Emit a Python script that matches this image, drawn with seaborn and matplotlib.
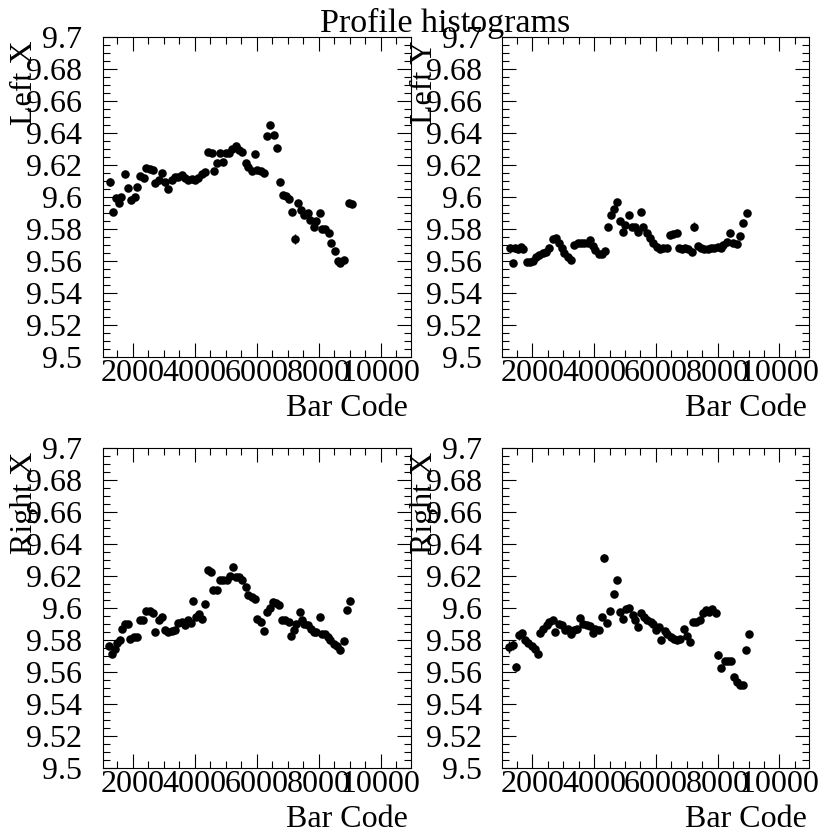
import numpy as np
import pandas as pd
import matplotlib
matplotlib.use("Agg")
import matplotlib.pyplot as plt
from matplotlib.ticker import MultipleLocator, FuncFormatter
import seaborn as sns

# ---------------- data ----------------
title = "Profile histograms"
x_label = "Bar Code"
panel_names = ["Left X", "Left Y", "Right X", "Right X"]

left_x_code = [1255, 1363, 1449, 1546, 1633, 1741, 1849, 1957, 2065, 2151, 2227, 2356, 2443, 2551,
               2659, 2734, 2853, 2950, 3037, 3145, 3253, 3361, 3469, 3577, 3685, 3793, 3901, 4009,
               4117, 4225, 4333, 4441, 4549, 4635, 4732, 4819, 4905, 5013, 5121, 5218, 5326, 5434,
               5542, 5650, 5737, 5845, 5953, 6028, 6136, 6244, 6331, 6439, 6547, 6655, 6741, 6849,
               6946, 7054, 7141, 7227, 7335, 7443, 7540, 7648, 7735, 7843, 7929, 8037, 8124, 8221,
               8329, 8415, 8523, 8631, 8707, 8815, 8977, 9085]
left_x_val = [9.6098, 9.591, 9.5994, 9.5963, 9.6004, 9.6146, 9.6056, 9.5983, 9.6004, 9.6067, 9.6133,
              9.6119, 9.6181, 9.6175, 9.6171, 9.6092, 9.6108, 9.6154, 9.6098, 9.605, 9.6108, 9.6129,
              9.6129, 9.614, 9.6119, 9.6108, 9.6113, 9.6108, 9.6119, 9.6146, 9.616, 9.6285, 9.6279,
              9.6167, 9.6213, 9.6279, 9.6223, 9.6275, 9.6279, 9.63, 9.6321, 9.6296, 9.6285, 9.6213,
              9.6188, 9.6167, 9.6269, 9.6171, 9.6167, 9.6154, 9.6383, 9.6452, 9.639, 9.6306, 9.6098,
              9.6015, 9.6008, 9.5988, 9.591, 9.5738, 9.5967, 9.5921, 9.589, 9.59, 9.5858, 9.5817,
              9.5854, 9.5904, 9.58, 9.58, 9.5775, 9.5717, 9.5667, 9.5602, 9.5588, 9.5608, 9.5963,
              9.5958]
left_x_err = [0.0025, 0.0015, 0.002, 0.002, 0.0015, 0.001, 0.001, 0.0012, 0.001, 0.001, 0.001,
              0.001, 0.001, 0.001, 0.001, 0.001, 0.001, 0.001, 0.001, 0.001, 0.001, 0.001,
              0.001, 0.001, 0.001, 0.001, 0.001, 0.001, 0.001, 0.001, 0.001, 0.001, 0.001,
              0.001, 0.001, 0.001, 0.001, 0.001, 0.001, 0.001, 0.001, 0.001, 0.001, 0.001,
              0.001, 0.001, 0.001, 0.001, 0.001, 0.001, 0.0012, 0.0012, 0.0012, 0.0012, 0.001,
              0.001, 0.001, 0.001, 0.001, 0.003, 0.001, 0.001, 0.001, 0.001, 0.001, 0.001,
              0.001, 0.001, 0.001, 0.001, 0.001, 0.001, 0.001, 0.001, 0.001, 0.001, 0.0012,
              0.0012]

left_y_code = [1272, 1358, 1444, 1531, 1617, 1703, 1811, 1919, 2005, 2113, 2221, 2329, 2437, 2545,
               2652, 2760, 2847, 2944, 3030, 3138, 3246, 3354, 3462, 3570, 3677, 3785, 3861, 3947,
               4034, 4142, 4250, 4358, 4455, 4541, 4638, 4746, 4832, 4919, 5005, 5113, 5210, 5318,
               5426, 5501, 5588, 5696, 5804, 5912, 6020, 6128, 6236, 6344, 6452, 6559, 6667, 6754,
               6840, 6948, 7045, 7153, 7229, 7348, 7456, 7564, 7672, 7780, 7888, 7996, 8104, 8180,
               8288, 8396, 8504, 8611, 8719, 8827, 8935]
left_y_val = [9.5681, 9.5588, 9.5681, 9.5675, 9.5688, 9.5675, 9.5598, 9.5598, 9.5604, 9.5629, 9.564,
              9.565, 9.566, 9.5681, 9.5738, 9.5744, 9.5713, 9.5681, 9.5654, 9.5629, 9.5608, 9.5702,
              9.5717, 9.5713, 9.5717, 9.5717, 9.5733, 9.5696, 9.5671, 9.5646, 9.5646, 9.5667,
              9.5817, 9.589, 9.5925, 9.5969, 9.5854, 9.5785, 9.5827, 9.589, 9.5817, 9.5813, 9.5785,
              9.591, 9.5817, 9.5775, 9.5744, 9.5713, 9.5688, 9.5675, 9.5681, 9.5685, 9.5765, 9.5769,
              9.5775, 9.5681, 9.5675, 9.5681, 9.5675, 9.566, 9.5817, 9.5696, 9.5681, 9.5675, 9.5675,
              9.5681, 9.5681, 9.5688, 9.5681, 9.5702, 9.5723, 9.5779, 9.5713, 9.5708, 9.5758,
              9.5838, 9.5904]
left_y_err = [0.003, 0.0015, 0.002, 0.002, 0.0015, 0.001, 0.001, 0.001, 0.001, 0.001, 0.001,
              0.001, 0.001, 0.001, 0.001, 0.001, 0.001, 0.001, 0.001, 0.001, 0.001, 0.001,
              0.001, 0.001, 0.001, 0.001, 0.001, 0.001, 0.001, 0.001, 0.001, 0.001,
              0.001, 0.001, 0.001, 0.001, 0.001, 0.001, 0.001, 0.001, 0.001, 0.001, 0.001,
              0.001, 0.001, 0.001, 0.001, 0.001, 0.001, 0.001, 0.001, 0.001, 0.001, 0.001,
              0.001, 0.001, 0.001, 0.001, 0.001, 0.001, 0.003, 0.001, 0.001, 0.001, 0.001,
              0.001, 0.001, 0.001, 0.001, 0.001, 0.001, 0.001, 0.001, 0.001, 0.001,
              0.001, 0.001]

right_x_code = [1233, 1320, 1417, 1503, 1579, 1644, 1741, 1838, 1924, 2032, 2140, 2227, 2335, 2443,
                2551, 2659, 2734, 2842, 2950, 3037, 3145, 3253, 3361, 3469, 3577, 3685, 3771, 3868,
                3933, 4041, 4127, 4235, 4333, 4441, 4527, 4603, 4711, 4819, 4927, 5035, 5143, 5229,
                5326, 5434, 5542, 5650, 5737, 5845, 5953, 6028, 6136, 6244, 6331, 6417, 6514, 6622,
                6719, 6816, 6924, 7032, 7119, 7195, 7281, 7389, 7465, 7540, 7648, 7756, 7843, 7929,
                8037, 8113, 8199, 8296, 8383, 8491, 8599, 8707, 8815, 8923, 9031]
right_x_val = [9.5763, 9.5717, 9.5748, 9.5783, 9.58, 9.5873, 9.59, 9.59, 9.581, 9.5821, 9.5821,
               9.5929, 9.5929, 9.5983, 9.5983, 9.5971, 9.5852, 9.5925, 9.5946, 9.5863, 9.5852,
               9.5858, 9.5863, 9.5908, 9.5915, 9.5894, 9.5925, 9.5908, 9.6046, 9.5946, 9.5967,
               9.5935, 9.6025, 9.6238, 9.6227, 9.6113, 9.6113, 9.6179, 9.6175, 9.6179, 9.62, 9.6258,
               9.6196, 9.6196, 9.6179, 9.6133, 9.6081, 9.6071, 9.606, 9.5935, 9.5915, 9.5858,
               9.5977, 9.6004, 9.604, 9.6033, 9.6019, 9.5929, 9.5929, 9.5915, 9.5825, 9.5863,
               9.5904, 9.5977, 9.5925, 9.5904, 9.5894, 9.5873, 9.5852, 9.5852, 9.5946, 9.5842,
               9.5838, 9.5821, 9.5804, 9.5779, 9.5763, 9.5742, 9.5796, 9.5992, 9.6046]
right_x_err = [0.002, 0.002, 0.0015, 0.0015, 0.0012, 0.001, 0.001, 0.001, 0.001, 0.001, 0.001,
               0.001, 0.001, 0.001, 0.001, 0.001, 0.001, 0.001, 0.001, 0.001, 0.001,
               0.001, 0.001, 0.001, 0.001, 0.001, 0.001, 0.001, 0.001, 0.001, 0.001,
               0.001, 0.001, 0.001, 0.001, 0.001, 0.001, 0.001, 0.001, 0.001, 0.001, 0.001,
               0.001, 0.001, 0.001, 0.001, 0.001, 0.001, 0.001, 0.001, 0.001, 0.001,
               0.001, 0.001, 0.001, 0.001, 0.001, 0.001, 0.001, 0.001, 0.001, 0.001,
               0.001, 0.001, 0.001, 0.001, 0.001, 0.001, 0.001, 0.001, 0.001, 0.001,
               0.001, 0.001, 0.001, 0.001, 0.001, 0.001, 0.001, 0.0012, 0.0012]

right_x2_code = [1250, 1358, 1466, 1552, 1660, 1757, 1865, 1973, 2081, 2167, 2243, 2351, 2459, 2545,
                 2652, 2739, 2847, 2955, 3041, 3138, 3246, 3343, 3430, 3537, 3645, 3753, 3861, 3947,
                 4034, 4142, 4239, 4325, 4412, 4509, 4638, 4746, 4832, 4919, 5027, 5135, 5243, 5329,
                 5415, 5501, 5609, 5717, 5825, 5912, 5998, 6084, 6170, 6278, 6365, 6473, 6581, 6689,
                 6796, 6904, 7012, 7120, 7206, 7314, 7422, 7530, 7616, 7724, 7832, 7940, 8016, 8124,
                 8232, 8340, 8448, 8534, 8633, 8719, 8805, 8913, 9021]
right_x2_val = [9.5758, 9.5769, 9.5633, 9.5831, 9.5846, 9.58, 9.5783, 9.5763, 9.5748, 9.5713, 9.5846,
                9.5873, 9.5894, 9.5915, 9.5925, 9.5852, 9.59, 9.5894, 9.5867, 9.5873, 9.5842, 9.5867,
                9.5873, 9.5942, 9.59, 9.5894, 9.5888, 9.5846, 9.5873, 9.5867, 9.5946, 9.6317, 9.5908,
                9.5983, 9.6088, 9.6179, 9.5977, 9.5935, 9.5998, 9.6004, 9.5956, 9.5925, 9.5883,
                9.5971, 9.5946, 9.5929, 9.5915, 9.59, 9.5867, 9.5883, 9.5804, 9.5858, 9.5842, 9.5821,
                9.581, 9.58, 9.581, 9.5873, 9.5825, 9.579, 9.5915, 9.5915, 9.5929, 9.5971, 9.5992,
                9.5977, 9.5998, 9.5971, 9.5706, 9.5629, 9.5671, 9.5671, 9.5671, 9.5571, 9.554, 9.5519,
                9.5519, 9.5738, 9.5842]
right_x2_err = [0.004, 0.003, 0.0025, 0.003, 0.0015, 0.001, 0.001, 0.001, 0.001, 0.001, 0.001,
                0.001, 0.001, 0.001, 0.001, 0.001, 0.001, 0.001, 0.001, 0.001, 0.001, 0.001,
                0.001, 0.001, 0.001, 0.001, 0.001, 0.001, 0.001, 0.001, 0.0015, 0.0025, 0.001,
                0.001, 0.001, 0.001, 0.001, 0.001, 0.001, 0.001, 0.001, 0.001, 0.001,
                0.001, 0.001, 0.001, 0.001, 0.001, 0.001, 0.001, 0.001, 0.001, 0.001, 0.001,
                0.001, 0.001, 0.001, 0.001, 0.001, 0.001, 0.001, 0.001, 0.001, 0.001, 0.001,
                0.001, 0.001, 0.001, 0.0025, 0.001, 0.001, 0.001, 0.001, 0.001, 0.001, 0.001,
                0.001, 0.0012, 0.0012]

half_bin = 50  # half width of a profile bin (horizontal error bar)

series = [
    (left_x_code, left_x_val, left_x_err),
    (left_y_code, left_y_val, left_y_err),
    (right_x_code, right_x_val, right_x_err),
    (right_x2_code, right_x2_val, right_x2_err),
]

# ---------------- style ----------------
sns.set_theme(style="ticks")
plt.rcParams["font.family"] = ["Liberation Serif", "DejaVu Serif"]
plt.rcParams["text.color"] = "black"
plt.rcParams["axes.labelcolor"] = "black"
plt.rcParams["axes.linewidth"] = 0.8
plt.rcParams["xtick.color"] = "black"
plt.rcParams["ytick.color"] = "black"
plt.rcParams["xtick.labelcolor"] = "black"
plt.rcParams["ytick.labelcolor"] = "black"
plt.rcParams["axes.edgecolor"] = "black"

W, H = 820, 834
fig = plt.figure(figsize=(W / 100, H / 100), dpi=100)

# panel frames in pixel coordinates (left, top, right, bottom)
frames = [
    (102.7, 37.3, 410.7, 357.3),
    (502.5, 37.3, 809.5, 357.3),
    (102.7, 448.3, 410.7, 768.3),
    (502.5, 448.3, 809.5, 768.3),
]

for (l, t, r, b), name, (xs, ys, es) in zip(frames, panel_names, series):
    ax = fig.add_axes([l / W, 1 - b / H, (r - l) / W, (b - t) / H])
    df = pd.DataFrame({"code": xs, "val": ys, "err": es})
    ax.errorbar(df["code"], df["val"], yerr=df["err"], xerr=half_bin, fmt="none",
                ecolor="black", elinewidth=1.0, capsize=0, zorder=2)
    sns.scatterplot(data=df, x="code", y="val", ax=ax, color="black", s=38,
                    linewidth=0, marker="o", zorder=3, legend=False)
    ax.set_xlim(1030, 10975)
    ax.set_ylim(9.5, 9.7)
    ax.xaxis.set_major_locator(MultipleLocator(2000))
    ax.xaxis.set_minor_locator(MultipleLocator(500))
    ax.yaxis.set_major_locator(MultipleLocator(0.02))
    ax.yaxis.set_minor_locator(MultipleLocator(0.005))
    ax.xaxis.set_major_formatter(FuncFormatter(lambda v, p: "%d" % round(v)))
    ax.yaxis.set_major_formatter(FuncFormatter(lambda v, p: "%g" % round(v, 4)))
    ax.tick_params(which="both", direction="in", top=True, right=True,
                   labeltop=False, labelright=False, width=0.8, colors="black")
    ax.tick_params(which="major", length=10)
    ax.tick_params(which="minor", length=5)
    ax.tick_params(axis="y", which="major", labelsize=23, pad=15)
    ax.tick_params(axis="x", which="major", labelsize=23, pad=1.0)
    for sp in ax.spines.values():
        sp.set_visible(True)
        sp.set_color("black")
        sp.set_linewidth(0.8)

    ax.set_xlabel(x_label, fontsize=23, loc="right", color="black")
    ax.xaxis.label.set_va("baseline")
    ax.xaxis.set_label_coords(0.99, -0.183)
    ax.set_ylabel(name, fontsize=23, loc="top", color="black")
    ax.yaxis.label.set_va("baseline")
    ax.yaxis.set_label_coords(-0.2295, 0.99)
    ax.set_facecolor("white")

fig.text(0.5427, 1 - 32 / H, title, ha="center", va="baseline", fontsize=24.5, color="black")
fig.savefig("out.png", dpi=100, facecolor="white")
